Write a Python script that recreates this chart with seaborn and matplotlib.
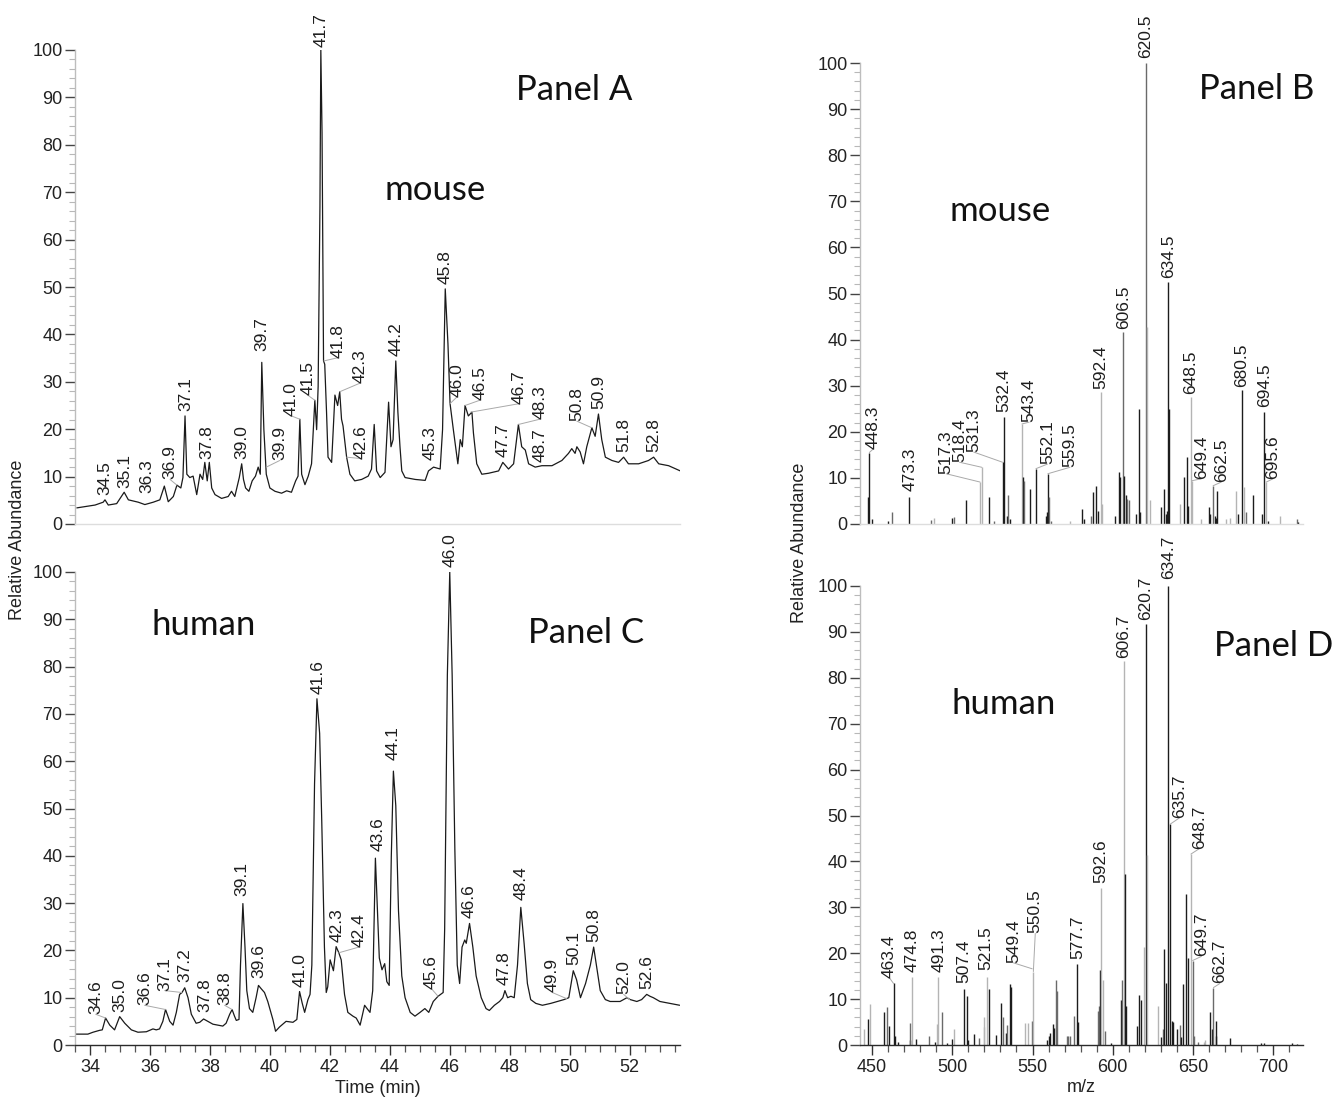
import matplotlib
matplotlib.use("Agg")
import matplotlib.pyplot as plt
from matplotlib.ticker import MultipleLocator
import seaborn as sns

# ---------------- chromatogram data (time in min, relative abundance) ----------------
mouse_time = [33.56, 34.17, 34.44, 34.50, 34.61, 34.89, 35.14, 35.28, 35.61, 35.83,
              36.11, 36.33, 36.48, 36.61, 36.78, 36.90, 37.03, 37.10, 37.17, 37.23,
              37.33, 37.44, 37.56, 37.67, 37.76, 37.83, 37.91, 37.98, 38.06, 38.17,
              38.39, 38.61, 38.72, 38.83, 38.98, 39.06, 39.12, 39.19, 39.30, 39.41,
              39.52, 39.61, 39.68, 39.73, 39.80, 39.88, 40.00, 40.17, 40.39, 40.56,
              40.72, 40.86, 40.94, 41.00, 41.06, 41.17, 41.28, 41.39, 41.44, 41.50,
              41.56, 41.61, 41.67, 41.70, 41.74, 41.79, 41.83, 41.89, 41.94, 42.06,
              42.17, 42.26, 42.33, 42.39, 42.44, 42.56, 42.67, 42.83, 43.06, 43.28,
              43.39, 43.48, 43.56, 43.68, 43.84, 43.96, 44.04, 44.11, 44.20, 44.27,
              44.34, 44.40, 44.51, 44.85, 45.18, 45.29, 45.46, 45.68, 45.76, 45.85,
              45.94, 46.01, 46.12, 46.27, 46.35, 46.42, 46.51, 46.62, 46.74, 46.79,
              46.90, 47.07, 47.29, 47.63, 47.77, 47.96, 48.13, 48.29, 48.40, 48.52,
              48.63, 48.85, 49.07, 49.41, 49.74, 49.96, 50.07, 50.18, 50.24, 50.35,
              50.46, 50.57, 50.74, 50.85, 50.96, 51.07, 51.19, 51.41, 51.63, 51.80,
              51.96, 52.30, 52.63, 52.80, 52.97, 53.30, 53.69]
mouse_abund = [3.4, 4.0, 4.6, 5.1, 4.0, 4.3, 6.7, 5.1, 4.6, 4.1,
               4.6, 5.1, 8.0, 4.7, 5.8, 8.2, 7.6, 9.8, 22.8, 10.5,
               9.8, 10.1, 6.2, 10.5, 9.4, 13.0, 9.1, 13.0, 7.6, 6.2,
               5.4, 5.8, 6.9, 5.8, 9.8, 12.7, 9.4, 7.6, 6.9, 9.1,
               10.1, 12.0, 10.5, 34.1, 19.9, 10.5, 7.6, 6.9, 6.5, 7.0,
               6.7, 9.1, 10.1, 22.1, 10.5, 8.3, 10.1, 12.7, 18.8, 26.1,
               19.9, 29.0, 67.0, 100.0, 82.6, 34.4, 33.7, 23.6, 14.1, 13.0,
               27.2, 25.0, 27.9, 22.1, 20.7, 14.1, 10.5, 9.1, 9.4, 10.1,
               11.6, 21.0, 11.2, 9.8, 10.9, 25.7, 16.3, 17.8, 34.4, 23.6,
               16.3, 11.2, 9.8, 9.4, 9.2, 11.2, 12.0, 11.6, 19.9, 49.6,
               38.0, 25.4, 19.9, 12.7, 17.8, 16.3, 25.0, 22.8, 23.6, 19.2,
               12.7, 10.5, 10.7, 11.2, 13.0, 11.6, 12.7, 21.0, 16.3, 15.6,
               12.7, 12.0, 12.3, 12.3, 13.4, 14.9, 15.9, 14.9, 16.3, 15.2,
               12.7, 16.3, 20.3, 18.5, 23.2, 17.8, 14.1, 13.4, 13.0, 14.1,
               12.7, 12.7, 13.4, 14.1, 12.7, 12.3, 11.2]

human_time = [33.49, 33.93, 34.10, 34.32, 34.41, 34.52, 34.66, 34.82, 34.99, 35.16,
              35.38, 35.60, 35.88, 36.10, 36.21, 36.32, 36.43, 36.52, 36.66, 36.77,
              36.88, 36.99, 37.07, 37.16, 37.27, 37.38, 37.54, 37.66, 37.79, 37.93,
              38.10, 38.43, 38.54, 38.66, 38.74, 38.82, 38.88, 38.97, 39.02, 39.10,
              39.17, 39.23, 39.32, 39.43, 39.54, 39.62, 39.71, 39.82, 39.93, 40.10,
              40.19, 40.32, 40.54, 40.77, 40.90, 40.99, 41.08, 41.16, 41.27, 41.34,
              41.40, 41.49, 41.57, 41.66, 41.73, 41.82, 41.88, 41.93, 42.01, 42.12,
              42.21, 42.30, 42.38, 42.49, 42.60, 42.77, 42.88, 43.01, 43.16, 43.23,
              43.34, 43.43, 43.52, 43.65, 43.74, 43.83, 43.90, 43.98, 44.05, 44.12,
              44.20, 44.29, 44.40, 44.51, 44.68, 44.84, 45.01, 45.17, 45.30, 45.45,
              45.61, 45.78, 45.83, 45.92, 46.00, 46.08, 46.17, 46.25, 46.33, 46.41,
              46.50, 46.55, 46.66, 46.77, 46.88, 47.05, 47.21, 47.32, 47.49, 47.66,
              47.77, 47.84, 47.93, 48.04, 48.15, 48.26, 48.37, 48.48, 48.59, 48.70,
              48.87, 49.09, 49.37, 49.59, 49.81, 49.97, 50.12, 50.23, 50.36, 50.53,
              50.69, 50.80, 50.91, 51.02, 51.19, 51.35, 51.68, 51.91, 52.02, 52.24,
              52.40, 52.57, 52.68, 52.79, 53.01, 53.34, 53.67]
human_abund = [2.3, 2.3, 2.7, 3.1, 3.2, 5.7, 4.2, 3.2, 6.0, 4.6,
               3.2, 2.7, 2.8, 3.4, 3.2, 3.4, 5.0, 7.5, 5.0, 4.2,
               6.9, 10.7, 11.1, 12.1, 10.0, 6.5, 4.6, 4.8, 5.5, 5.0,
               4.4, 4.0, 4.6, 6.5, 7.5, 6.1, 5.2, 5.4, 16.9, 29.9,
               20.7, 11.5, 7.7, 6.9, 10.0, 12.6, 11.9, 11.1, 9.2, 5.4,
               2.9, 3.8, 5.0, 4.8, 5.4, 11.3, 8.8, 6.9, 9.6, 10.7,
               16.9, 55.2, 73.2, 65.9, 47.5, 20.7, 11.1, 12.3, 18.0, 15.7,
               20.8, 19.5, 18.0, 10.7, 6.9, 6.1, 5.7, 4.2, 8.4, 7.8,
               6.9, 11.5, 39.5, 18.4, 15.9, 17.2, 13.4, 12.6, 39.8, 57.9,
               50.6, 28.4, 14.6, 10.0, 6.9, 6.1, 6.9, 7.7, 6.9, 9.2,
               10.3, 11.1, 24.5, 78.2, 100.0, 78.2, 41.4, 16.9, 13.0, 20.7,
               22.2, 21.5, 25.7, 20.7, 14.6, 10.0, 7.7, 7.3, 8.4, 9.2,
               10.0, 11.5, 10.0, 10.3, 10.0, 16.9, 29.1, 21.5, 13.0, 9.6,
               8.8, 8.4, 8.8, 9.2, 9.6, 10.0, 15.7, 13.8, 10.0, 13.0,
               16.9, 20.7, 16.1, 11.5, 9.6, 9.2, 9.2, 10.0, 9.6, 9.2,
               9.6, 10.7, 10.3, 10.0, 9.2, 8.8, 8.4]

# peak annotations: text, label position, leader anchor (None = no leader)
mouse_lc_text = ["34.5", "35.1", "36.3", "36.9", "37.1", "37.8", "39.0", "39.7", "39.9", "41.0",
                 "41.5", "41.7", "41.8", "42.3", "42.6", "44.2", "45.3", "45.8", "46.0", "46.5",
                 "46.7", "47.7", "48.3", "48.7", "50.8", "50.9", "51.8", "52.8"]
mouse_lc_x = [34.50, 35.16, 35.89, 36.67, 37.19, 37.90, 39.06, 39.74, 40.33, 40.72,
              41.26, 41.70, 42.28, 43.00, 43.05, 44.20, 45.35, 45.85, 46.24, 47.00,
              48.33, 47.77, 49.00, 49.00, 50.24, 50.96, 51.80, 52.80]
mouse_lc_y = [6.2, 7.6, 6.5, 9.4, 23.9, 13.8, 13.8, 36.6, 13.4, 22.8,
              27.2, 100.7, 35.1, 29.7, 13.8, 35.5, 13.4, 50.7, 26.8, 26.1,
              25.4, 14.1, 22.1, 13.0, 21.7, 24.3, 15.2, 15.2]
mouse_lc_px = [None, None, None, 36.90, None, None, None, None, 39.88, 41.00,
               41.50, None, 41.80, 42.33, 42.56, None, None, None, 46.01, 46.51,
               46.70, None, 48.29, None, 50.74, None, None, None]
mouse_lc_py = [None, None, None, 8.2, None, None, None, None, 12.0, 22.1,
               26.1, None, 34.4, 27.9, 14.1, None, None, None, 25.4, 25.0,
               23.6, None, 21.0, None, 20.3, None, None, None]

human_lc_text = ["34.6", "35.0", "36.6", "37.1", "37.2", "37.8", "38.8", "39.1", "39.6", "41.0",
                 "41.6", "42.3", "42.4", "43.6", "44.1", "45.6", "46.0", "46.6", "47.8", "48.4",
                 "49.9", "50.1", "50.8", "52.0", "52.6"]
human_lc_x = [34.19, 34.99, 35.82, 36.49, 37.16, 37.82, 38.49, 39.08, 39.62, 41.00,
              41.60, 42.24, 42.97, 43.60, 44.12, 45.39, 46.00, 46.66, 47.82, 48.37,
              49.42, 50.14, 50.80, 51.80, 52.57]
human_lc_y = [6.5, 6.9, 8.4, 11.5, 13.4, 6.9, 8.4, 31.4, 14.2, 12.3,
              74.3, 21.8, 20.7, 41.0, 60.2, 11.9, 101.1, 26.8, 12.6, 30.6,
              11.1, 16.9, 21.8, 10.7, 11.9]
human_lc_px = [34.52, None, 36.52, 37.07, None, None, 38.74, None, None, None,
               None, None, 42.30, None, None, 45.61, None, None, None, None,
               49.90, None, None, 52.00, None]
human_lc_py = [5.7, None, 7.5, 11.1, None, None, 7.5, None, None, None,
               None, None, 19.5, None, None, 10.3, None, None, None, None,
               9.8, None, None, 9.6, None]

# ---------------- mass spectra (m/z, relative abundance, stick tone) ----------------
mouse_mz = [447.5, 448.3, 450.2, 460.0, 462.6, 473.3, 486.6, 488.7, 499.8, 500.9,
            508.5, 517.3, 518.4, 522.8, 526.2, 531.3, 532.4, 534.0, 534.5, 536.2,
            543.4, 544.0, 544.6, 548.7, 552.1, 558.4, 559.0, 559.5, 560.5, 561.5,
            573.2, 581.1, 581.9, 586.7, 587.7, 589.8, 590.8, 592.4, 593.0, 601.2,
            603.9, 604.7, 606.5, 607.0, 608.0, 609.0, 610.0, 614.7, 616.4, 617.0,
            620.5, 621.3, 623.4, 630.3, 631.7, 633.0, 633.7, 634.5, 635.1, 642.1,
            644.2, 646.2, 647.0, 648.5, 649.4, 655.0, 659.9, 660.7, 662.5, 663.5,
            664.4, 665.0, 670.7, 673.2, 676.9, 678.0, 680.5, 681.5, 683.0, 687.3,
            692.9, 694.5, 695.6, 696.7, 703.9, 714.7, 715.5]
mouse_int = [5.8, 15.5, 1.1, 0.7, 2.5, 5.8, 0.9, 1.4, 1.3, 1.6,
             5.1, 9.1, 12.3, 5.8, 0.7, 13.4, 23.2, 1.8, 6.2, 1.1,
             21.7, 10.1, 9.4, 7.6, 12.0, 1.8, 2.5, 10.9, 5.8, 0.7,
             0.7, 3.3, 1.1, 1.8, 6.9, 8.3, 2.9, 28.6, 4.3, 1.8,
             11.2, 10.1, 41.7, 10.5, 6.2, 5.4, 5.1, 2.2, 25.0, 2.5,
             100.0, 42.8, 5.1, 3.6, 7.6, 2.2, 2.9, 52.5, 25.0, 4.3,
             10.1, 14.5, 4.0, 27.5, 9.4, 1.1, 3.6, 2.2, 8.3, 1.8,
             1.4, 7.2, 1.1, 1.4, 7.2, 2.2, 29.0, 8.0, 2.5, 6.2,
             2.2, 24.3, 9.1, 0.7, 1.8, 1.1, 0.4]
mouse_tone = ["d", "d", "d", "d", "m", "d", "m", "l", "d", "m",
              "d", "l", "l", "d", "m", "d", "d", "d", "m", "d",
              "l", "d", "m", "d", "d", "d", "d", "d", "m", "m",
              "l", "d", "d", "m", "d", "d", "d", "l", "l", "d",
              "d", "d", "m", "d", "d", "m", "m", "d", "d", "d",
              "m", "l", "l", "d", "d", "d", "d", "d", "d", "l",
              "d", "d", "d", "l", "l", "l", "d", "d", "m", "d",
              "d", "d", "l", "l", "l", "d", "d", "l", "m", "d",
              "d", "d", "l", "d", "l", "m", "d"]

human_mz = [444.8, 447.3, 448.7, 457.3, 459.4, 460.4, 463.4, 464.0, 466.0, 473.4,
            473.8, 474.8, 477.1, 485.3, 489.5, 490.7, 491.3, 493.4, 497.0, 500.1,
            501.1, 507.4, 509.3, 510.0, 513.5, 516.8, 519.5, 519.9, 521.5, 522.9,
            527.5, 530.2, 531.8, 533.5, 533.9, 536.0, 536.6, 545.4, 546.9, 549.4,
            550.5, 559.0, 560.0, 560.6, 562.7, 563.4, 564.6, 565.2, 571.5, 572.0,
            573.4, 576.1, 577.7, 578.6, 590.7, 591.1, 591.8, 592.6, 593.9, 594.9,
            598.8, 604.9, 605.7, 606.7, 607.7, 608.3, 615.0, 616.6, 617.7, 619.7,
            620.7, 621.5, 628.4, 629.8, 631.2, 632.1, 632.9, 634.7, 635.7, 636.7,
            637.2, 639.8, 642.0, 642.8, 643.8, 645.9, 647.1, 648.7, 649.7, 650.5,
            653.2, 656.6, 657.6, 660.6, 661.6, 662.7, 664.1, 664.6, 672.8, 692.5,
            694.0, 711.4, 714.5]
human_int = [3.4, 5.6, 9.0, 7.2, 8.2, 4.1, 13.4, 1.9, 0.7, 1.1,
             4.9, 14.9, 1.3, 1.9, 0.7, 4.5, 14.9, 7.1, 0.5, 1.3,
             3.4, 12.3, 10.7, 1.1, 2.5, 1.5, 4.0, 6.0, 14.9, 12.3,
             2.2, 9.2, 6.0, 2.6, 4.3, 13.2, 12.7, 4.9, 4.7, 5.2,
             16.0, 1.1, 1.9, 2.6, 4.5, 3.7, 14.2, 11.7, 1.9, 2.0,
             1.9, 6.3, 17.7, 5.0, 7.5, 8.6, 16.4, 34.3, 14.2, 3.0,
             0.4, 9.9, 14.2, 83.6, 37.3, 8.6, 4.1, 10.8, 9.7, 21.3,
             91.8, 41.4, 8.6, 1.7, 3.4, 20.9, 13.4, 100.0, 48.1, 5.2,
             5.0, 3.4, 4.3, 1.7, 13.2, 32.8, 18.9, 41.6, 18.4, 1.9,
             0.7, 0.7, 1.1, 7.1, 3.4, 12.5, 5.2, 1.9, 1.5, 0.5,
             0.4, 0.4, 0.3]
human_tone = ["l", "d", "l", "d", "m", "d", "d", "d", "d", "d",
              "m", "l", "d", "m", "d", "l", "l", "m", "d", "d",
              "l", "d", "d", "d", "d", "m", "l", "l", "l", "d",
              "d", "d", "m", "d", "m", "d", "d", "l", "l", "m",
              "l", "d", "d", "d", "d", "d", "m", "m", "m", "m",
              "m", "m", "d", "d", "m", "m", "d", "l", "l", "m",
              "d", "d", "m", "l", "d", "d", "d", "d", "d", "l",
              "d", "l", "l", "d", "m", "d", "d", "d", "d", "d",
              "d", "d", "m", "d", "d", "d", "d", "l", "m", "m",
              "m", "l", "l", "d", "d", "m", "d", "d", "d", "d",
              "d", "d", "d"]

mouse_ms_text = ["448.3", "473.3", "517.3", "518.4", "531.3", "532.4", "543.4", "552.1", "559.5", "592.4",
                 "606.5", "620.5", "634.5", "648.5", "649.4", "662.5", "680.5", "694.5", "695.6"]
mouse_ms_x = [450.8, 473.8, 496.2, 504.5, 513.4, 532.4, 547.9, 559.3, 573.3, 592.4,
              606.5, 620.5, 634.5, 648.5, 655.1, 667.6, 680.5, 694.5, 699.8]
mouse_ms_y = [16.3, 7.2, 10.9, 13.4, 15.6, 24.3, 22.1, 13.0, 12.3, 29.3,
              42.4, 101.0, 53.3, 28.3, 9.8, 9.1, 29.7, 25.4, 9.8]
mouse_ms_px = [448.3, None, 517.3, 518.4, 531.3, None, 543.4, 552.1, 559.5, None,
               None, None, None, None, 649.4, 662.5, None, None, 695.6]
mouse_ms_py = [15.5, None, 9.1, 12.3, 13.4, None, 21.7, 12.0, 10.9, None,
               None, None, None, None, 9.4, 8.3, None, None, 9.1]

human_ms_text = ["463.4", "474.8", "491.3", "507.4", "521.5", "549.4", "550.5", "577.7", "592.6", "606.7",
                 "620.7", "634.7", "635.7", "648.7", "649.7", "662.7"]
human_ms_x = [460.9, 474.8, 491.6, 507.4, 520.6, 538.1, 551.7, 577.9, 592.6, 606.7,
              620.7, 634.7, 641.6, 654.0, 655.2, 666.7]
human_ms_y = [14.6, 16.0, 16.0, 13.4, 16.4, 17.9, 24.3, 18.7, 35.4, 84.3,
              92.5, 101.5, 49.5, 42.8, 19.3, 13.4]
human_ms_px = [463.4, None, None, None, None, 549.8, 550.5, None, None, None,
               None, None, 635.7, 648.7, 649.7, 662.7]
human_ms_py = [13.4, None, None, None, None, 16.6, 16.0, None, None, None,
               None, None, 48.1, 41.6, 18.4, 12.5]

# ---------------- styling / layout ----------------
sns.set_theme(style="white")
plt.rcParams["font.family"] = ["Liberation Sans", "DejaVu Sans"]

W, H = 1338, 1100
fig = plt.figure(figsize=(W / 100, H / 100), dpi=100)
fig.patch.set_facecolor("white")


def rect(x0, x1, yt, yb):
    return [x0 / W, 1 - yb / H, (x1 - x0) / W, (yb - yt) / H]


axA = fig.add_axes(rect(75, 680, 50, 524))
axC = fig.add_axes(rect(75, 680, 572, 1045))
axB = fig.add_axes(rect(860, 1303, 63, 524))
axD = fig.add_axes(rect(860, 1303, 586, 1045))

TONES = {"d": "#1c1c1c", "m": "#6a6a6a", "l": "#b4b4b4"}
TXT = "#1e1e1e"
LEAD = "#a9a9a9"


def base_axes(ax, xlim, show_x):
    ax.set_facecolor("white")
    ax.set_xlim(*xlim)
    ax.set_ylim(0, 100)
    sns.despine(ax=ax, top=True, right=True)
    ax.spines["left"].set_color("#bdbdbd")
    ax.spines["left"].set_linewidth(1.0)
    ax.yaxis.set_major_locator(MultipleLocator(10))
    ax.yaxis.set_minor_locator(MultipleLocator(2))
    ax.tick_params(axis="y", which="major", direction="out", length=7, width=1.0,
                   color="#444444", labelsize=13, labelcolor="#222222", pad=2, left=True)
    ax.tick_params(axis="y", which="minor", direction="out", length=4, width=0.8,
                   color="#b8b8b8", left=True)
    if show_x:
        ax.spines["bottom"].set_color("#2a2a2a")
        ax.spines["bottom"].set_linewidth(1.0)
        ax.tick_params(axis="x", which="major", direction="out", length=7, width=1.0,
                       color="#333333", labelsize=13, labelcolor="#222222", pad=3, bottom=True)
        ax.tick_params(axis="x", which="minor", direction="out", length=5, width=0.9,
                       color="#555555", bottom=True)
    else:
        ax.spines["bottom"].set_color("#dddddd")
        ax.spines["bottom"].set_linewidth(1.0)
        ax.set_xticks([])
    ax.set_xlabel("")
    ax.set_ylabel("")
    ax.grid(False)


def annotate(ax, texts, xs, ys, pxs, pys):
    for t, x, y, px, py in zip(texts, xs, ys, pxs, pys):
        if px is not None:
            ax.plot([px, x], [py, y], color=LEAD, lw=0.7, clip_on=False, zorder=2)
        ax.text(x, y, t, rotation=90, ha="center", va="bottom", fontsize=12.5,
                color=TXT, clip_on=False, zorder=3)


# --- chromatograms ---
tlim = (33.5, 53.68)
for ax, tt, vv in ((axA, mouse_time, mouse_abund), (axC, human_time, human_abund)):
    sns.lineplot(x=tt, y=vv, ax=ax, color="#1a1a1a", linewidth=0.9,
                 sort=False, estimator=None, legend=False)
base_axes(axA, tlim, False)
base_axes(axC, tlim, True)
axC.xaxis.set_major_locator(MultipleLocator(2))
axC.xaxis.set_minor_locator(MultipleLocator(0.5))
axC.set_xlabel("Time (min)", fontsize=13, color="#222222", labelpad=3)

annotate(axA, mouse_lc_text, mouse_lc_x, mouse_lc_y, mouse_lc_px, mouse_lc_py)
annotate(axC, human_lc_text, human_lc_x, human_lc_y, human_lc_px, human_lc_py)

# --- spectra ---
mzlim = (442.5, 718.5)
for ax, mz, it, tn in ((axB, mouse_mz, mouse_int, mouse_tone),
                       (axD, human_mz, human_int, human_tone)):
    ax.vlines(mz, 0, it, colors=[TONES[k] for k in tn], linewidth=1.0, zorder=1)
base_axes(axB, mzlim, False)
base_axes(axD, mzlim, True)
axD.xaxis.set_major_locator(MultipleLocator(50))
axD.xaxis.set_minor_locator(MultipleLocator(10))
axD.set_xlabel("m/z", fontsize=13, color="#222222", labelpad=2)

annotate(axB, mouse_ms_text, mouse_ms_x, mouse_ms_y, mouse_ms_px, mouse_ms_py)
annotate(axD, human_ms_text, human_ms_x, human_ms_y, human_ms_px, human_ms_py)

# --- panel titles ---
big = dict(fontsize=25, color="#111111", ha="center", va="center",
           family=["Lato", "DejaVu Sans"], clip_on=False)
axA.text(50.16, 91.6, "Panel A", **big)
axA.text(45.5, 70.5, "mouse", **big)
axC.text(37.79, 88.7, "human", **big)
axC.text(50.56, 87.2, "Panel C", **big)
axB.text(529.9, 68.0, "mouse", **big)
axB.text(689.4, 94.3, "Panel B", **big)
axD.text(531.8, 74.3, "human", **big)
axD.text(700.2, 86.9, "Panel D", **big)

# --- shared y labels ---
fig.text(18 / W, 1 - 540 / H, "Relative Abundance", rotation=90, ha="center", va="center",
         fontsize=13, color="#222222")
fig.text(800 / W, 1 - 543 / H, "Relative Abundance", rotation=90, ha="center", va="center",
         fontsize=13, color="#222222")

fig.savefig("out.png", dpi=100, facecolor="white")
